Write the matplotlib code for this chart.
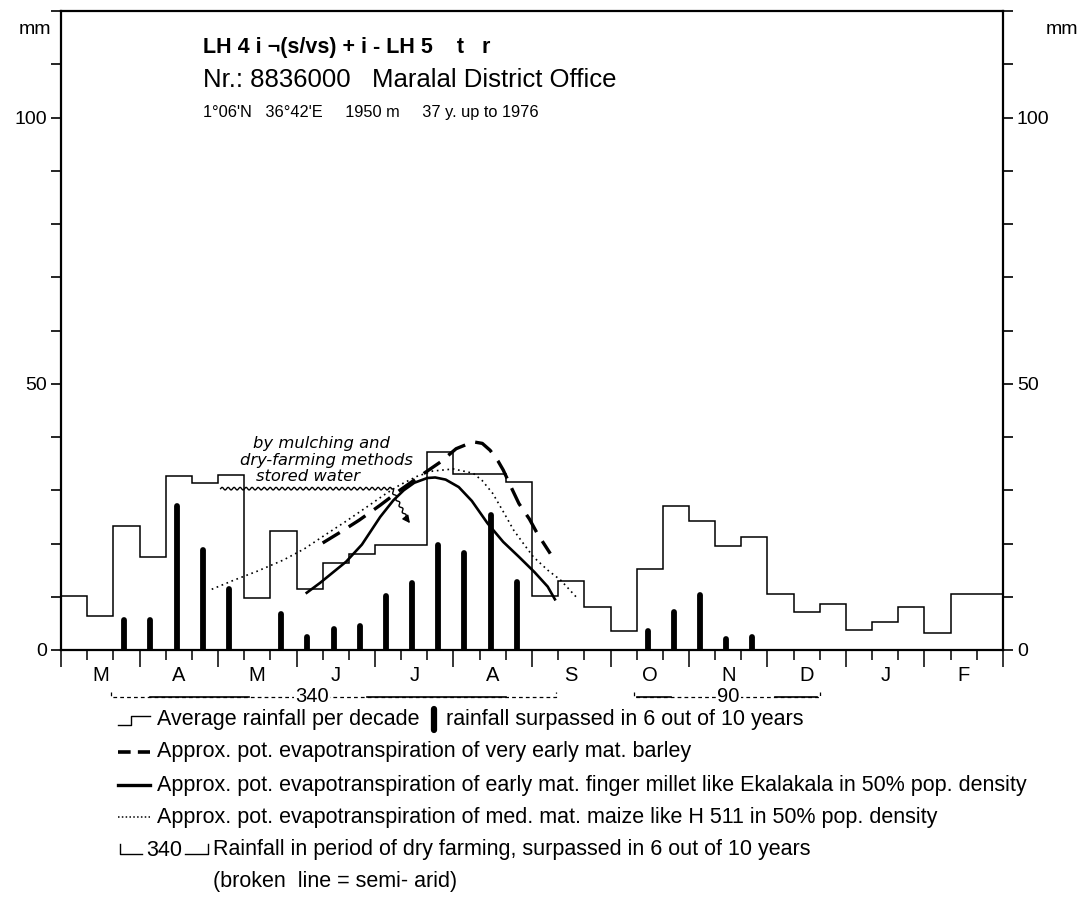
import numpy as np
import matplotlib
matplotlib.use("Agg")
import matplotlib.pyplot as plt
from matplotlib.lines import Line2D

plt.rcParams['font.family'] = ['Liberation Sans', 'DejaVu Sans']

# ---- data (mm per decade, 36 decades March..February) ----
months = ['M', 'A', 'M', 'J', 'J', 'A', 'S', 'O', 'N', 'D', 'J', 'F']

avg_rain = [10.1, 6.4, 23.3, 17.5, 32.6, 31.3, 32.8, 9.7, 22.4, 11.4, 16.4, 18.1,
            19.8, 19.8, 37.1, 33.1, 33.1, 31.6, 10.1, 12.9, 8.1, 3.6, 15.3, 27.0,
            24.2, 19.6, 21.2, 10.5, 7.2, 8.6, 3.7, 5.2, 8.0, 3.1, 10.6, 10.6]

rain_60 = [0, 0, 5.6, 5.6, 27.0, 18.8, 11.4, 0, 6.7, 2.4, 3.9, 4.6,
           10.2, 12.5, 19.7, 18.3, 25.3, 12.8, 0, 0, 0, 0, 3.6, 7.2,
           10.3, 2.1, 2.4, 0, 0, 0, 0, 0, 0, 0, 0, 0]

# barley (dashed)
barley_x = [10.0, 10.7, 11.4, 12.2, 12.95, 13.7, 14.5, 15.1, 15.75, 16.1, 16.4, 16.7,
            16.9, 17.2, 17.5, 17.9, 18.2, 18.7]
barley_y = [20.1, 22.2, 24.4, 27.2, 30.0, 32.6, 35.3, 37.8, 39.1, 38.8, 37.5, 35.5,
            33.8, 30.6, 27.5, 24.6, 21.9, 18.1]

# finger millet (solid)
millet_x = [9.35, 9.9, 10.4, 10.9, 11.5, 12.2, 12.7, 13.1, 13.5, 14.0, 14.3, 14.7,
            15.2, 15.7, 16.3, 16.9, 17.5, 18.1, 18.6, 18.9]
millet_y = [10.6, 12.6, 14.6, 16.6, 19.8, 25.0, 28.1, 30.0, 31.4, 32.3, 32.4, 32.0,
            30.6, 28.0, 23.8, 20.3, 17.5, 14.6, 11.9, 9.3]

# maize (dotted)
maize_x = [5.76, 6.6, 7.5, 8.5, 9.3, 10.0, 10.9, 11.7, 12.4, 12.95, 13.6, 14.2, 15.0,
           15.75, 16.1, 16.5, 16.9, 17.3, 17.7, 18.05, 18.6, 19.1, 19.7]
maize_y = [11.4, 13.1, 14.8, 16.9, 19.0, 21.3, 24.2, 26.9, 29.3, 31.0, 32.6, 33.6, 34.0,
           33.2, 31.8, 29.4, 26.0, 22.5, 19.8, 17.5, 15.0, 13.1, 9.9]

stored_level = 30.3
stored_x0, stored_x1 = 6.1, 12.63
stored_tip = (13.4, 23.4)

# dry farming periods: (start, end, label, label pos, solid sub-spans)
periods = [
    (1.9, 18.9, '340', 9.6, [(3.4, 7.2), (11.7, 17.0)]),
    (21.9, 29.0, '90', 25.5, [(22.0, 23.3), (27.3, 28.9)]),
]

W, H = 1088, 914
fig = plt.figure(figsize=(W / 100, H / 100), dpi=100)
ax = fig.add_axes([61 / W, 1 - 650 / H, 942 / W, 639 / H])
ax.set_xlim(0, 36)
ax.set_ylim(0, 120)

px_x = 942 / 36.0   # px per decade
px_y = 639 / 120.0  # px per mm

ax.stairs(avg_rain, np.arange(37), baseline=None, color='black', lw=1.1)

xs = [i + 0.42 for i, v in enumerate(rain_60) if v > 0]
vs = [v for v in rain_60 if v > 0]
ax.vlines(xs, 0, vs, colors='black', lw=4.2, capstyle='round', zorder=3)

ax.plot(barley_x, barley_y, color='black', lw=2.4, dashes=(6, 3.2))
ax.plot(millet_x, millet_y, color='black', lw=1.9, solid_capstyle='butt')
ax.plot(maize_x, maize_y, color='black', lw=1.2, dashes=(1, 2.2))


def wavy(p0, p1, period=6.0, amp=1.3):
    # wiggle a straight segment, measured in pixels
    x0, y0 = p0[0] * px_x, p0[1] * px_y
    x1, y1 = p1[0] * px_x, p1[1] * px_y
    L = np.hypot(x1 - x0, y1 - y0)
    t = np.linspace(0, 1, max(int(L * 2), 10))
    nx, ny = -(y1 - y0) / L, (x1 - x0) / L
    off = amp * np.sin(2 * np.pi * t * L / period)
    return (x0 + (x1 - x0) * t + nx * off) / px_x, (y0 + (y1 - y0) * t + ny * off) / px_y


wx, wy = wavy((stored_x0, stored_level), (stored_x1, stored_level))
ax.plot(wx, wy, color='black', lw=1.0)
wx, wy = wavy((stored_x1, stored_level), (13.22, 24.6), period=7, amp=1.2)
ax.plot(wx, wy, color='black', lw=1.0)
ax.annotate('', xy=stored_tip, xytext=(13.2, 24.7),
            arrowprops=dict(arrowstyle='-|>', color='black', lw=1.0, mutation_scale=11))
for dy, s, xc in [(38.8, 'by mulching and', 9.95), (35.6, 'dry-farming methods', 10.15),
                  (32.5, 'stored water', 9.45)]:
    ax.text(xc, dy, s, ha='center', va='center', style='italic', fontsize=11.8,
            family=['DejaVu Sans'])

# axes frame and ticks
for sp in ax.spines.values():
    sp.set_linewidth(1.6)
ax.set_yticks([0, 50, 100])
ax.set_yticks(np.arange(0, 121, 10), minor=True)
ax.tick_params(axis='y', which='both', direction='out', left=True, right=True,
               labelleft=True, labelright=True, length=7, width=1.2,
               labelsize=14, pad=3)
ax.set_xticks(np.arange(0, 37, 3))
ax.set_xticks(np.arange(0, 37, 1), minor=True)
ax.tick_params(axis='x', which='major', direction='out', length=12, width=1.1, labelbottom=False)
ax.tick_params(axis='x', which='minor', direction='out', length=7, width=1.1)

trans = ax.get_xaxis_transform()
for k, m in enumerate(months):
    ax.text(3 * k + 1.5, -0.04, m, transform=trans, ha='center', va='center',
            fontsize=14.5, clip_on=False)

fig.text(35 / W, 1 - 30 / H, 'mm', fontsize=14, ha='center', va='center')
fig.text(1062 / W, 1 - 30 / H, 'mm', fontsize=14, ha='center', va='center')

# dry farming period brackets below the axis
by, tk = -0.0735, -0.065
for a, b, lab, lx, solids in periods:
    ax.plot([a, a, b, b], [tk, by, by, tk], transform=trans, color='black',
            lw=0.9, clip_on=False, dashes=(3, 2.5))
    for s0, s1 in solids:
        ax.plot([s0, s1], [by, by], transform=trans, color='black', lw=1.2,
                clip_on=False)
    ax.text(lx, by, lab, transform=trans, ha='center', va='center', fontsize=14.5,
            clip_on=False, bbox=dict(facecolor='white', edgecolor='none', pad=1))

# titles
fig.text(203 / W, 1 - 48 / H, 'LH 4 i \u00ac(s/vs) + i - LH 5    t   r',
         fontsize=15.5, fontweight='bold', ha='left', va='center')
fig.text(203 / W, 1 - 80 / H, 'Nr.: 8836000   Maralal District Office',
         fontsize=18.5, ha='left', va='center')
fig.text(203 / W, 1 - 112 / H, "1\u00b006'N   36\u00b042'E     1950 m     37 y. up to 1976",
         fontsize=11.8, ha='left', va='center')

# legend block (figure pixels)
def fline(xp, yp, **kw):
    fig.add_artist(Line2D([x / W for x in xp], [1 - y / H for y in yp],
                          color='black', **kw))

rows = [720, 752, 785, 817, 850, 882]
fs = 15.5
fline([118, 131, 131, 150], [725, 725, 716, 716], lw=1.0)
fig.text(157 / W, 1 - rows[0] / H, 'Average rainfall per decade', fontsize=fs, va='center')
fline([434, 434], [709, 730], lw=4.5, solid_capstyle='round')
fig.text(446 / W, 1 - rows[0] / H, 'rainfall surpassed in 6 out of 10 years',
         fontsize=fs, va='center')
fline([118, 150], [rows[1], rows[1]], lw=2.6, dashes=(3.5, 2))
fig.text(157 / W, 1 - rows[1] / H,
         'Approx. pot. evapotranspiration of very early mat. barley', fontsize=fs, va='center')
fline([118, 150], [rows[2], rows[2]], lw=2.4)
fig.text(157 / W, 1 - rows[2] / H,
         'Approx. pot. evapotranspiration of early mat. finger millet like Ekalakala in 50% pop. density',
         fontsize=fs, va='center')
fline([118, 150], [rows[3], rows[3]], lw=1.1, dashes=(1, 1.5))
fig.text(157 / W, 1 - rows[3] / H,
         'Approx. pot. evapotranspiration of med. mat. maize like H 511 in 50% pop. density',
         fontsize=fs, va='center')
fline([120, 120, 142], [rows[4] - 6, rows[4] + 4, rows[4] + 4], lw=1.0)
fline([185, 208, 208], [rows[4] + 4, rows[4] + 4, rows[4] - 6], lw=1.0)
fig.text(164 / W, 1 - rows[4] / H, '340', fontsize=fs, ha='center', va='center')
fig.text(213 / W, 1 - rows[4] / H,
         'Rainfall in period of dry farming, surpassed in 6 out of 10 years',
         fontsize=fs, va='center')
fig.text(213 / W, 1 - rows[5] / H, '(broken  line = semi- arid)', fontsize=fs, va='center')

fig.savefig('out.png', dpi=100)
